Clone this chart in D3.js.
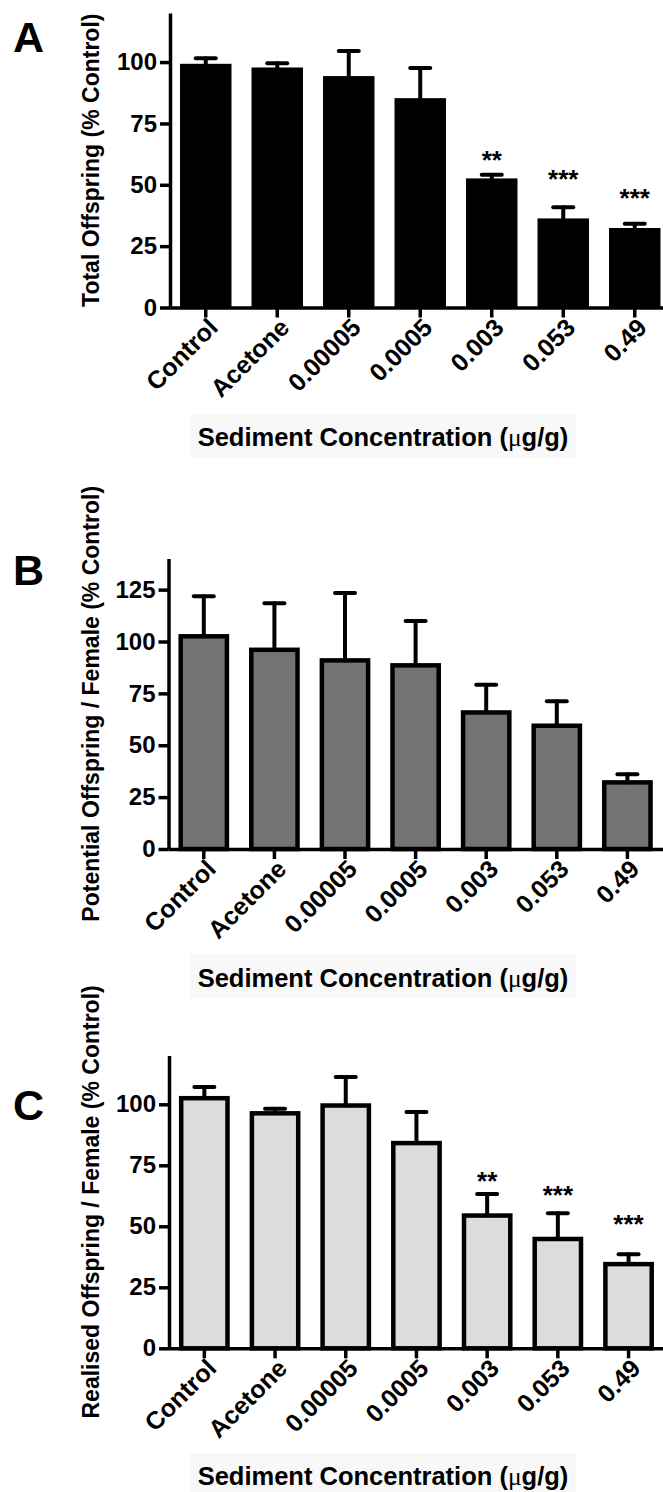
<!DOCTYPE html>
<html>
<head>
<meta charset="utf-8">
<script src="https://cdn.jsdelivr.net/npm/d3@7"></script>
<style>
  html, body { margin: 0; padding: 0; background: #ffffff; }
  svg { display: block; }
  text { font-family: "Liberation Sans", Arial, Helvetica, sans-serif; font-weight: bold; fill: #000; }
</style>
</head>
<body>
<script>
// Treatment groups (x axis)
const categories = ["Control", "Acetone", "0.00005", "0.0005", "0.003", "0.053", "0.49"];

// A: total offspring, % of control (mean and SEM)
const totalMean = [99.3, 97.8, 94.3, 85.3, 52.6, 36.3, 32.4];
const totalSem  = [2.3, 1.7, 10.2, 12.3, 1.5, 4.5, 1.7];
const totalSig  = ["", "", "", "", "**", "***", "***"];
const totalSigAt = [null, null, null, null, 56.5, 48.7, 40.9];
const totalTicks = [0, 25, 50, 75, 100];

// B: potential offspring per female, % of control
const potentialMean = [102.5, 96.0, 90.9, 88.5, 65.8, 59.4, 32.1];
const potentialSem  = [19.3, 22.4, 32.5, 21.4, 13.4, 11.8, 3.9];
const potentialTicks = [0, 25, 50, 75, 100, 125];

// C: realised offspring per female, % of control
const realisedMean = [102.5, 96.3, 99.5, 84.1, 54.4, 44.8, 34.5];
const realisedSem  = [4.6, 1.9, 11.7, 12.7, 8.8, 10.5, 4.0];
const realisedSig  = ["", "", "", "", "**", "***", "***"];
const realisedSigAt = [null, null, null, null, 64.9, 59.1, 47.1];
const realisedTicks = [0, 25, 50, 75, 100];

const xTitle = "Sediment Concentration (";

const W = 663, H = 1492;
const svg = d3.select("body").append("svg").attr("width", W).attr("height", H);

const panels = [
  { letter: "A", letterY: 51.5, yLabel: "Total Offspring (% Control)",
    mean: totalMean, sem: totalSem, sig: totalSig, sigAt: totalSigAt, ticks: totalTicks, yMax: 120,
    y0: 307.5, yTop: 13, axisX: 170, step: 71.5, pad: 0.28,
    fill: "#000000", stroke: "none", strokeW: 0, titleY: 446 },
  { letter: "B", letterY: 584.5, yLabel: "Potential Offspring / Female (% Control)",
    mean: potentialMean, sem: potentialSem, sig: null, sigAt: null, ticks: potentialTicks, yMax: 140,
    y0: 849, yTop: 558.5, axisX: 168.5, step: 70.6, pad: 0.345,
    fill: "#737373", stroke: "#000000", strokeW: 4.5, titleY: 986.5 },
  { letter: "C", letterY: 1120, yLabel: "Realised Offspring / Female (% Control)",
    mean: realisedMean, sem: realisedSem, sig: realisedSig, sigAt: realisedSigAt, ticks: realisedTicks, yMax: 120,
    y0: 1348.3, yTop: 1055.5, axisX: 169, step: 70.7, pad: 0.345,
    fill: "#dcdcdc", stroke: "#000000", strokeW: 4.5, titleY: 1485 }
];

function drawPanel(p) {
  const g = svg.append("g");
  const y = d3.scaleLinear().domain([0, p.yMax]).range([p.y0, p.yTop]);
  const x = d3.scaleBand().domain(categories)
    .range([p.axisX, p.axisX + categories.length * p.step])
    .paddingInner(p.pad).paddingOuter(p.pad / 2);
  const cx = d => x(d) + x.bandwidth() / 2;

  // bars
  g.append("g").selectAll("rect").data(categories).join("rect")
    .attr("x", d => x(d))
    .attr("width", x.bandwidth())
    .attr("y", (d, i) => y(p.mean[i]))
    .attr("height", (d, i) => y(0) - y(p.mean[i]))
    .attr("fill", p.fill)
    .attr("stroke", p.stroke)
    .attr("stroke-width", p.strokeW);

  // error bars (upper SEM only)
  const eb = g.append("g").attr("stroke", "#000").attr("stroke-width", 4).attr("stroke-linecap", "round");
  eb.selectAll("line.v").data(categories).join("line").attr("class", "v")
    .attr("x1", cx).attr("x2", cx)
    .attr("y1", (d, i) => y(p.mean[i]))
    .attr("y2", (d, i) => y(p.mean[i] + p.sem[i]));
  eb.selectAll("line.c").data(categories).join("line").attr("class", "c")
    .attr("x1", d => cx(d) - 10).attr("x2", d => cx(d) + 10)
    .attr("y1", (d, i) => y(p.mean[i] + p.sem[i]))
    .attr("y2", (d, i) => y(p.mean[i] + p.sem[i]));

  // significance stars
  if (p.sig) {
    g.append("g").selectAll("text").data(categories.filter((d, i) => p.sig[i]))
      .join("text")
      .attr("x", cx)
      .attr("y", d => y(p.sigAt[categories.indexOf(d)]))
      .attr("text-anchor", "middle")
      .attr("font-size", 26)
      .text(d => p.sig[categories.indexOf(d)]);
  }

  // y axis
  const yAxis = d3.axisLeft(y).tickValues(p.ticks).tickSize(10).tickSizeOuter(0).tickPadding(3);
  const ya = g.append("g").attr("transform", `translate(${p.axisX},0)`).call(yAxis);
  ya.attr("font-family", null).attr("font-size", null);
  ya.selectAll("path, line").attr("stroke", "#000").attr("stroke-width", 3.5);
  ya.selectAll("text").attr("font-size", 24).attr("fill", "#000");

  // x axis
  const xAxis = d3.axisBottom(x).tickSize(10).tickSizeOuter(0);
  const xa = g.append("g").attr("transform", `translate(0,${p.y0})`).call(xAxis);
  xa.attr("font-family", null).attr("font-size", null);
  xa.select("path.domain").attr("d", `M${p.axisX},0.5H${W}`);
  xa.selectAll("path, line").attr("stroke", "#000").attr("stroke-width", 3.5);
  xa.selectAll("text")
    .attr("font-size", 25).attr("fill", "#000")
    .attr("text-anchor", "end")
    .attr("x", null).attr("y", null)
    .attr("dy", "0.71em")
    .attr("transform", "translate(1,9) rotate(-45)");

  // y axis title
  g.append("text")
    .attr("transform", `translate(99,${(p.y0 + p.yTop) / 2}) rotate(-90)`)
    .attr("text-anchor", "middle")
    .attr("font-size", 23)
    .text(p.yLabel);

  // x axis title on a faint panel
  const tg = g.append("g");
  const back = tg.append("rect").attr("fill", "#f8f8f8");
  const tt = tg.append("text")
    .attr("x", 383).attr("y", p.titleY)
    .attr("text-anchor", "middle")
    .attr("font-size", 25.5);
  tt.append("tspan").text(xTitle);
  tt.append("tspan").attr("font-family", "'Liberation Serif', 'DejaVu Serif', serif").attr("font-weight", "normal").text("\u03bc");
  tt.append("tspan").text("g/g)");
  const bb = tt.node().getBBox();
  back.attr("x", bb.x - 8).attr("y", bb.y - 9).attr("width", bb.width + 16).attr("height", bb.height + 14);

  // panel letter
  g.append("text").attr("x", 13).attr("y", p.letterY).attr("font-size", 43).text(p.letter);
}

panels.forEach(drawPanel);
</script>
</body>
</html>
